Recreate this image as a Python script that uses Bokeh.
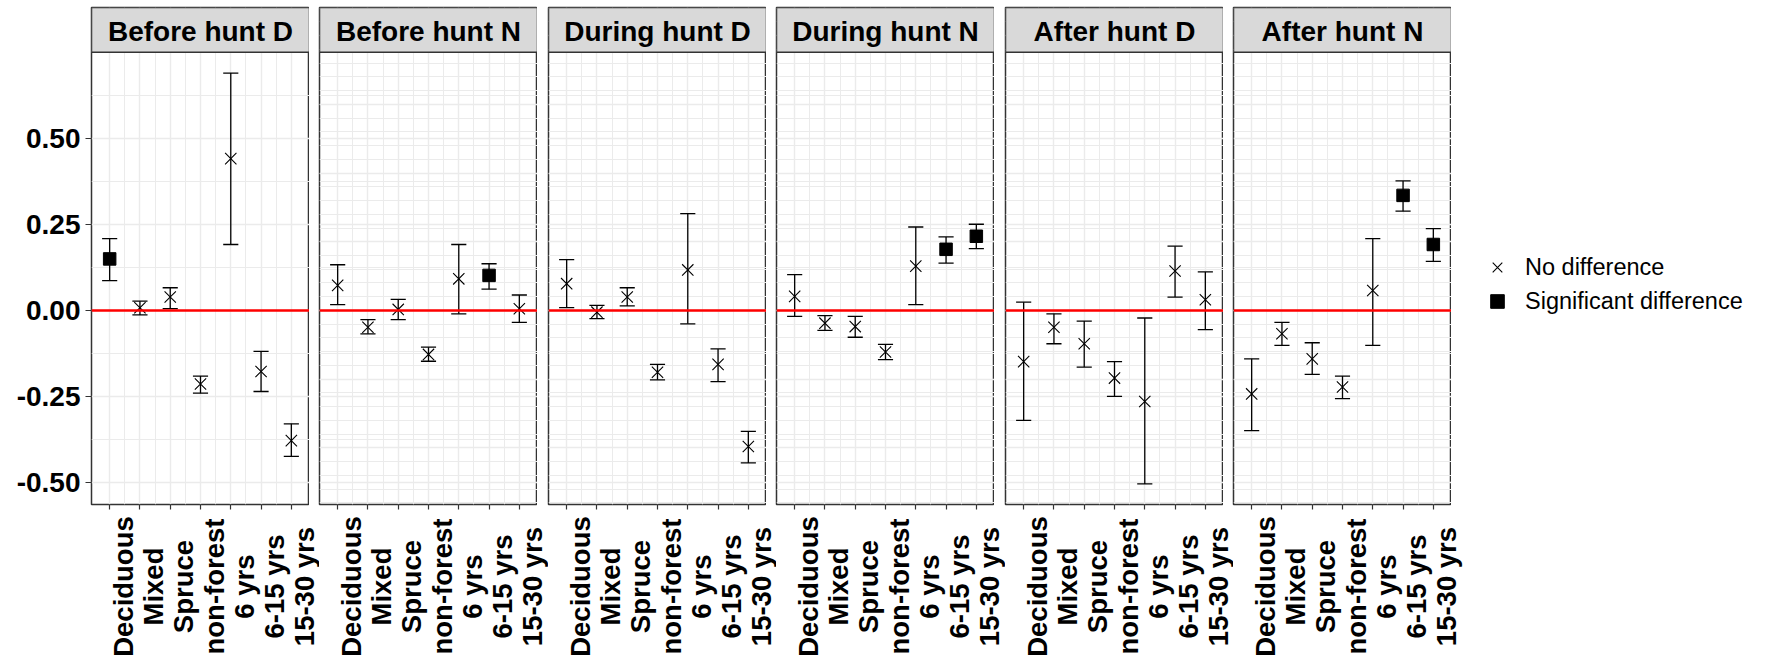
import math
from bokeh.plotting import figure
from bokeh.layouts import row, column
from bokeh.models import (Range1d, FixedTicker, NumeralTickFormatter, CustomJSTickFormatter,
                          Span, Label, Legend, LegendItem, Grid, ColumnDataSource)
from bokeh.core.properties import value
from bokeh.embed import file_html
from bokeh.resources import INLINE

# ---------------- data ----------------
categories = ["Deciduous", "Mixed", "Spruce", "non-forest", "6 yrs", "6-15 yrs", "15-30 yrs"]
panel_titles = ["Before hunt D", "Before hunt N", "During hunt D",
                "During hunt N", "After hunt D", "After hunt N"]

before_d_est = [0.150, 0.008, 0.039, -0.214, 0.442, -0.178, -0.379]
before_d_lo  = [0.087, -0.013, 0.005, -0.241, 0.192, -0.236, -0.425]
before_d_hi  = [0.209, 0.027, 0.066, -0.191, 0.691, -0.119, -0.330]
before_d_sig = [1, 0, 0, 0, 0, 0, 0]

before_n_est = [0.073, -0.049, 0.003, -0.128, 0.092, 0.102, 0.005]
before_n_lo  = [0.017, -0.068, -0.027, -0.148, -0.010, 0.062, -0.035]
before_n_hi  = [0.133, -0.027, 0.032, -0.107, 0.192, 0.136, 0.045]
before_n_sig = [0, 0, 0, 0, 0, 1, 0]

during_d_est = [0.078, -0.005, 0.039, -0.180, 0.118, -0.157, -0.396]
during_d_lo  = [0.008, -0.024, 0.013, -0.202, -0.039, -0.207, -0.444]
during_d_hi  = [0.148, 0.015, 0.066, -0.157, 0.282, -0.112, -0.352]
during_d_sig = [0, 0, 0, 0, 0, 0, 0]

during_n_est = [0.041, -0.037, -0.047, -0.121, 0.129, 0.178, 0.216]
during_n_lo  = [-0.017, -0.058, -0.078, -0.143, 0.017, 0.138, 0.180]
during_n_hi  = [0.104, -0.015, -0.017, -0.099, 0.243, 0.214, 0.251]
during_n_sig = [0, 0, 0, 0, 0, 1, 1]

after_d_est = [-0.149, -0.049, -0.097, -0.197, -0.265, 0.115, 0.031]
after_d_lo  = [-0.320, -0.097, -0.165, -0.250, -0.505, 0.039, -0.056]
after_d_hi  = [0.024, -0.010, -0.031, -0.149, -0.022, 0.187, 0.112]
after_d_sig = [0, 0, 0, 0, 0, 0, 0]

after_n_est = [-0.243, -0.068, -0.141, -0.223, 0.058, 0.335, 0.192]
after_n_lo  = [-0.350, -0.102, -0.186, -0.257, -0.102, 0.289, 0.143]
after_n_hi  = [-0.141, -0.035, -0.094, -0.191, 0.209, 0.377, 0.238]
after_n_sig = [0, 0, 0, 0, 0, 1, 1]

y_ticks = [-0.5, -0.25, 0.0, 0.25, 0.5]
legend_labels = ["No difference", "Significant difference"]

panel_data = [
    (before_d_est, before_d_lo, before_d_hi, before_d_sig),
    (before_n_est, before_n_lo, before_n_hi, before_n_sig),
    (during_d_est, during_d_lo, during_d_hi, during_d_sig),
    (during_n_est, during_n_lo, during_n_hi, during_n_sig),
    (after_d_est, after_d_lo, after_d_hi, after_d_sig),
    (after_n_est, after_n_lo, after_n_hi, after_n_sig),
]

# ---------------- layout constants ----------------
FONT = "Liberation Sans"
FRAME_W = 218
LEFTS = [91, 10, 11, 10, 11, 10]   # border left of each panel figure
LAST_EXTRA = 20
LEGEND_W = 314
TOP = 7
TOP_H = 514
BOT_H = 147
Y0, Y1 = -0.565, 0.752     # data panel range
YTOP = 0.882               # top of strip
X0, X1 = 0.4, 7.6
UNITS_PER_PX = (X1 - X0) / FRAME_W
CAP_HALF = 0.25
X_STYLE = dict(marker="x", size=16, line_color="black", line_width=1.1)
SQ_STYLE = dict(marker="square", size=12.5, fill_color="black", line_color="black")


def hide_grids(fig):
    for r in fig.center:
        if isinstance(r, Grid):
            r.visible = False


xs = list(range(1, len(categories) + 1))
x_minor = [k + 0.5 for k in xs[:-1]]
y_minor = [-0.375, -0.125, 0.125, 0.375, 0.625]

tops, bots = [], []
n = len(panel_titles)
for i, (title, (est, lo, hi, sig)) in enumerate(zip(panel_titles, panel_data)):
    first = i == 0
    bl = LEFTS[i]
    W = bl + FRAME_W
    p = figure(width=W, height=TOP_H,
               x_range=Range1d(X0, X1), y_range=Range1d(Y0, YTOP),
               output_backend="svg", toolbar_location=None, title=None,
               min_border_left=bl, min_border_right=0, min_border_top=TOP,
               min_border_bottom=10,
               y_axis_location="left" if first else None)
    p.background_fill_color = "white"
    p.border_fill_color = "white"
    p.outline_line_color = "#333333"
    p.outline_line_width = 1.5

    # x axis: ticks only, labels drawn centred in the row below
    p.xaxis.ticker = FixedTicker(ticks=xs, minor_ticks=x_minor)
    p.xaxis.formatter = CustomJSTickFormatter(code="return ''")
    p.xaxis.major_label_text_font_size = "1px"
    p.xaxis.major_label_standoff = 0
    p.xaxis.axis_line_color = None
    p.xaxis.major_tick_line_color = "#333333"
    p.xaxis.major_tick_line_width = 1.2
    p.xaxis.major_tick_out = 5
    p.xaxis.major_tick_in = 0
    p.xaxis.minor_tick_line_color = None

    yt = FixedTicker(ticks=y_ticks, minor_ticks=y_minor)
    if first:
        p.yaxis.ticker = yt
        p.yaxis.formatter = NumeralTickFormatter(format="0.00")
        p.yaxis.axis_line_color = None
        p.yaxis.major_tick_line_color = "#333333"
        p.yaxis.major_tick_line_width = 1.2
        p.yaxis.major_tick_out = 6
        p.yaxis.major_tick_in = 0
        p.yaxis.minor_tick_line_color = None
        p.yaxis.major_label_standoff = 5
        p.yaxis.major_label_text_font = FONT
        p.yaxis.major_label_text_font_style = "bold"
        p.yaxis.major_label_text_font_size = "28px"
        p.yaxis.major_label_text_color = "black"
    else:
        p.add_layout(Grid(dimension=1, ticker=yt))

    for g in list(p.xgrid) + list(p.ygrid):
        g.grid_line_color = "#EBEBEB"
        g.grid_line_width = 1.4
        g.minor_grid_line_color = "#EBEBEB"
        g.minor_grid_line_width = 1.0

    # strip
    p.quad(left=[X0], right=[X1], bottom=[Y1], top=[YTOP],
           fill_color="#D9D9D9", line_color="#333333", line_width=1.5)
    p.add_layout(Label(x=(X0 + X1) / 2, y=(Y1 + YTOP) / 2, y_offset=-2, text=title,
                       text_align="center", text_baseline="middle",
                       text_font=FONT, text_font_style="bold",
                       text_font_size="28px", text_color="black"))

    # error bars
    src = ColumnDataSource(dict(x=xs, lo=lo, hi=hi,
                                xl=[x - CAP_HALF for x in xs],
                                xr=[x + CAP_HALF for x in xs]))
    for a, b, c, d in (("x", "lo", "x", "hi"), ("xl", "hi", "xr", "hi"), ("xl", "lo", "xr", "lo")):
        p.segment(x0=a, y0=b, x1=c, y1=d, source=src, line_color="black", line_width=1.3)

    nd = ColumnDataSource(dict(x=[x for x, s in zip(xs, sig) if not s],
                               y=[e for e, s in zip(est, sig) if not s]))
    sd = ColumnDataSource(dict(x=[x for x, s in zip(xs, sig) if s],
                               y=[e for e, s in zip(est, sig) if s]))
    p.scatter("x", "y", source=nd, **X_STYLE)
    p.scatter("x", "y", source=sd, **SQ_STYLE)

    p.add_layout(Span(location=0, dimension="width", line_color="red", line_width=2.6))
    tops.append(p)

    # category labels row (frame extends over the gap to the next panel)
    qbl = LEFTS[0] if first else 0
    extra = LEFTS[i + 1] if i < n - 1 else LAST_EXTRA
    q = figure(width=qbl + FRAME_W + extra, height=BOT_H,
               x_range=Range1d(X0, X1 + extra * UNITS_PER_PX), y_range=Range1d(0, 1),
               output_backend="svg", toolbar_location=None, title=None,
               min_border_left=qbl, min_border_right=0, min_border_top=0,
               min_border_bottom=0, x_axis_location=None, y_axis_location=None)
    q.outline_line_color = None
    q.background_fill_color = "white"
    q.border_fill_color = "white"
    hide_grids(q)
    lsrc = ColumnDataSource(dict(x=xs, y=[0.51] * len(xs), t=categories))
    q.text(x="x", y="y", text="t", source=lsrc, angle=math.pi / 2,
           text_align="center", text_baseline="middle", x_offset=13.5,
           text_font=value(FONT), text_font_style="bold", text_font_size="27.5px",
           text_color="black")
    bots.append(q)

# legend in its own figure to the right
lg = figure(width=LEGEND_W, height=TOP_H, x_range=Range1d(0, 1), y_range=Range1d(0, 1),
            output_backend="svg", toolbar_location=None, title=None,
            min_border_left=0, min_border_right=0, min_border_top=0, min_border_bottom=0,
            x_axis_location=None, y_axis_location=None)
lg.outline_line_color = None
lg.background_fill_color = "white"
lg.border_fill_color = "white"
hide_grids(lg)
nan = float("nan")
rx = lg.scatter(x=[nan], y=[nan], **X_STYLE)
rs = lg.scatter(x=[nan], y=[nan], **SQ_STYLE)
legend = Legend(items=[LegendItem(label=legend_labels[0], renderers=[rx]),
                       LegendItem(label=legend_labels[1], renderers=[rs])],
                location=(29, 186), orientation="vertical",
                glyph_width=34, glyph_height=34, label_height=30,
                label_standoff=11, spacing=-2, padding=0, margin=0,
                border_line_color=None, background_fill_alpha=0,
                label_text_font=FONT, label_text_font_size="23.5px",
                label_text_color="black")
lg.add_layout(legend)

layout = column(row(*tops, lg), row(*bots))
open("out.html", "w").write(file_html(layout, INLINE))
